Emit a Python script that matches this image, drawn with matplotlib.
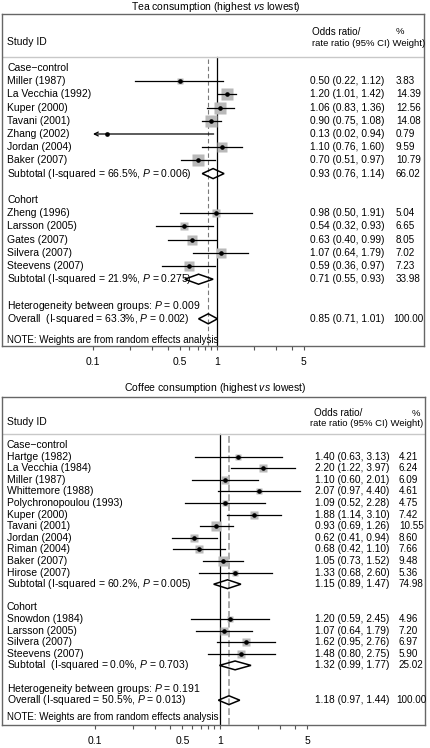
import numpy as np
import matplotlib
matplotlib.use("Agg")
import matplotlib.pyplot as plt
import matplotlib.transforms as mtransforms

plt.rcParams['font.family'] = ['Liberation Sans', 'DejaVu Sans']
plt.rcParams['mathtext.fontset'] = 'custom'
plt.rcParams['mathtext.rm'] = 'Liberation Sans'
plt.rcParams['mathtext.it'] = 'Liberation Sans:italic'
plt.rcParams['font.size'] = 7.5

# --- Tea data ---
tea_cc_names = ["Miller (1987)", "La Vecchia (1992)", "Kuper (2000)", "Tavani (2001)",
                "Zhang (2002)", "Jordan (2004)", "Baker (2007)"]
tea_cc_or = [0.50, 1.20, 1.06, 0.90, 0.13, 1.10, 0.70]
tea_cc_lo = [0.22, 1.01, 0.83, 0.75, 0.02, 0.76, 0.51]
tea_cc_hi = [1.12, 1.42, 1.36, 1.08, 0.94, 1.60, 0.97]
tea_cc_w = [3.83, 14.39, 12.56, 14.08, 0.79, 9.59, 10.79]
tea_cc_sub = (0.93, 0.76, 1.14, 66.02)

tea_co_names = ["Zheng (1996)", "Larsson (2005)", "Gates (2007)", "Silvera (2007)", "Steevens (2007)"]
tea_co_or = [0.98, 0.54, 0.63, 1.07, 0.59]
tea_co_lo = [0.50, 0.32, 0.40, 0.64, 0.36]
tea_co_hi = [1.91, 0.93, 0.99, 1.79, 0.97]
tea_co_w = [5.04, 6.65, 8.05, 7.02, 7.23]
tea_co_sub = (0.71, 0.55, 0.93, 33.98)

tea_overall = (0.85, 0.71, 1.01, 100.00)
tea_sub_labels = ["Subtotal (I-squared = 66.5%, $P$ = 0.006)",
                  "Subtotal (I-squared = 21.9%, $P$ = 0.275)"]
tea_het = "Heterogeneity between groups: $P$ = 0.009"
tea_overall_label = "Overall  (I-squared = 63.3%, $P$ = 0.002)"

# --- Coffee data ---
cof_cc_names = ["Hartge (1982)", "La Vecchia (1984)", "Miller (1987)", "Whittemore (1988)",
                "Polychronopoulou (1993)", "Kuper (2000)", "Tavani (2001)", "Jordan (2004)",
                "Riman (2004)", "Baker (2007)", "Hirose (2007)"]
cof_cc_or = [1.40, 2.20, 1.10, 2.07, 1.09, 1.88, 0.93, 0.62, 0.68, 1.05, 1.33]
cof_cc_lo = [0.63, 1.22, 0.60, 0.97, 0.52, 1.14, 0.69, 0.41, 0.42, 0.73, 0.68]
cof_cc_hi = [3.13, 3.97, 2.01, 4.40, 2.28, 3.10, 1.26, 0.94, 1.10, 1.52, 2.60]
cof_cc_w = [4.21, 6.24, 6.09, 4.61, 4.75, 7.42, 10.55, 8.60, 7.66, 9.48, 5.36]
cof_cc_sub = (1.15, 0.89, 1.47, 74.98)

cof_co_names = ["Snowdon (1984)", "Larsson (2005)", "Silvera (2007)", "Steevens (2007)"]
cof_co_or = [1.20, 1.07, 1.62, 1.48]
cof_co_lo = [0.59, 0.64, 0.95, 0.80]
cof_co_hi = [2.45, 1.79, 2.76, 2.75]
cof_co_w = [4.96, 7.20, 6.97, 5.90]
cof_co_sub = (1.32, 0.99, 1.77, 25.02)

cof_overall = (1.18, 0.97, 1.44, 100.00)
cof_sub_labels = ["Subtotal (I-squared = 60.2%, $P$ = 0.005)",
                  "Subtotal  (I-squared = 0.0%, $P$ = 0.703)"]
cof_het = "Heterogeneity between groups: $P$ = 0.191"
cof_overall_label = "Overall (I-squared = 50.5%, $P$ = 0.013)"

group_titles = ["Case\u2212control", "Cohort"]
major_ticks = [0.1, 0.5, 1, 5]
minor_ticks = [0.2, 0.3, 0.4, 0.6, 0.7, 0.8, 0.9, 2, 3, 4]

W, H = 431, 748
fig = plt.figure(figsize=(W / 100, H / 100), dpi=100)

FS_NAME, FS_CI, FS_W, FS_HEAD = 7.5, 7.3, 7.1, 6.8


def ci_text(o, lo, hi):
    return f"{o:.2f} ({lo:.2f}, {hi:.2f})"


def draw_panel(box, p01, dec, groups, subs, sub_labels, het, overall, overall_label,
               title, y0, step, sep_y, note_y, k, cols, head, dash):
    left, top, right, bottom = box
    ax = fig.add_axes([left / W, 1 - bottom / H, (right - left) / W, (bottom - top) / H])
    ax.set_xscale('log')
    ax.set_xlim(10 ** (-1 - (p01 - left) / dec), 10 ** (-1 + (right - p01) / dec))
    ax.set_ylim(bottom - top, 0)
    tr = mtransforms.blended_transform_factory(ax.transAxes, ax.transData)
    fx = lambda px: (px - left) / (right - left)
    name_x, ci_x, w_x = fx(7), fx(cols[0]), fx(cols[1])

    def row_text(y, label, o, lo, hi, w, wshift=0):
        ax.text(name_x, y, label, transform=tr, va='center', fontsize=FS_NAME)
        ax.text(ci_x, y, ci_text(o, lo, hi), transform=tr, va='center', fontsize=FS_CI)
        ax.text(w_x - fx(left + wshift), y, f"{w:.2f}", transform=tr, va='center', fontsize=FS_W)

    # header
    ax.text(name_x, head[1], "Study ID", transform=tr, va='center', fontsize=FS_NAME)
    ax.text(fx(head[0]), head[2], "Odds ratio/", transform=tr, va='center', fontsize=FS_HEAD + 0.3)
    ax.text(fx(head[3]), head[2], "%", transform=tr, va='center', fontsize=FS_HEAD)
    ax.text(fx(head[4]), head[1] + 1, "rate ratio (95% CI) Weight)", transform=tr,
            va='center', fontsize=FS_HEAD)
    ax.axhline(sep_y, color='#c8c8c8', lw=1)

    r = 0
    for g, (names, ors, los, his, ws) in enumerate(groups):
        ax.text(name_x, y0 + step * r, group_titles[g], transform=tr, va='center', fontsize=FS_NAME)
        r += 1
        for n, o, lo, hi, w in zip(names, ors, los, his, ws):
            y = y0 + step * r
            row_text(y, n, o, lo, hi, w)
            ax.plot(o, y, 's', ms=k * np.sqrt(w) * 0.72, color='#b9b9b9', mec='none', zorder=2)
            if lo < major_ticks[0]:
                ax.annotate('', xy=(major_ticks[0], y), xytext=(hi, y),
                            arrowprops=dict(arrowstyle='->', lw=0.9, color='black',
                                            shrinkA=0, shrinkB=0,
                                            mutation_scale=7), zorder=3)
            else:
                ax.plot([lo, hi], [y, y], color='black', lw=0.9, zorder=3)
            ax.plot(o, y, 'o', ms=2.3, color='black', zorder=4)
            r += 1
        y = y0 + step * r
        o, lo, hi, w = subs[g]
        row_text(y, sub_labels[g], o, lo, hi, w)
        dh = step * 0.38
        ax.fill([lo, o, hi, o, lo], [y, y - dh, y, y + dh, y], fill=False,
                edgecolor='black', lw=1.1, zorder=5)
        r += 2

    ax.text(name_x, y0 + step * r, het, transform=tr, va='center', fontsize=FS_NAME)
    r += 1
    y = y0 + step * r
    o, lo, hi, w = overall
    row_text(y, overall_label, o, lo, hi, w, wshift=3)
    dh = step * 0.38
    ax.fill([lo, o, hi, o, lo], [y, y - dh, y, y + dh, y], fill=False,
            edgecolor='black', lw=1.1, zorder=5)
    ax.text(name_x, note_y, "NOTE: Weights are from random effects analysis",
            transform=tr, va='center', fontsize=7.0)

    # reference lines
    ax.plot([1, 1], [sep_y, bottom - top], color='black', lw=0.9, zorder=1)
    ax.plot([o, o], [sep_y + 2, bottom - top], color=dash[0], lw=dash[1],
            dashes=dash[2], zorder=1)

    ax.set_xticks(major_ticks, [f"{t:g}" for t in major_ticks])
    ax.set_xticks(minor_ticks, minor=True)
    ax.tick_params(axis='x', which='both', direction='out', length=3.2, width=0.8,
                   color='#555555', pad=5, labelsize=7.5)
    ax.set_yticks([])
    for s in ax.spines.values():
        s.set_color('#666666')
        s.set_linewidth(1.0)

    fig.text(0.5, 1 - title[1] / H, title[0], ha='center', va='center', fontsize=7.5)
    return ax


draw_panel((2, 14, 424, 346), 93, 124,
           [(tea_cc_names, tea_cc_or, tea_cc_lo, tea_cc_hi, tea_cc_w),
            (tea_co_names, tea_co_or, tea_co_lo, tea_co_hi, tea_co_w)],
           [tea_cc_sub, tea_co_sub], tea_sub_labels, tea_het, tea_overall, tea_overall_label,
           ("Tea consumption (highest $\\mathit{vs}$ lowest)", 7),
           y0=54, step=13.2, sep_y=43, note_y=325.5, k=3.4, cols=(310, 396),
           head=(312, 28, 18, 396, 312), dash=('#7a7a7a', 0.8, (4, 2.5)))

draw_panel((2, 397, 425, 725), 95, 125,
           [(cof_cc_names, cof_cc_or, cof_cc_lo, cof_cc_hi, cof_cc_w),
            (cof_co_names, cof_co_or, cof_co_lo, cof_co_hi, cof_co_w)],
           [cof_cc_sub, cof_co_sub], cof_sub_labels, cof_het, cof_overall, cof_overall_label,
           ("Coffee consumption (highest $\\mathit{vs}$ lowest)", 388),
           y0=48, step=11.6, sep_y=37, note_y=319.5, k=3.0, cols=(315, 399),
           head=(314, 25, 16, 412, 310), dash=('#aaaaaa', 1.4, (3.5, 1.5)))

fig.savefig("out.png", dpi=100)
